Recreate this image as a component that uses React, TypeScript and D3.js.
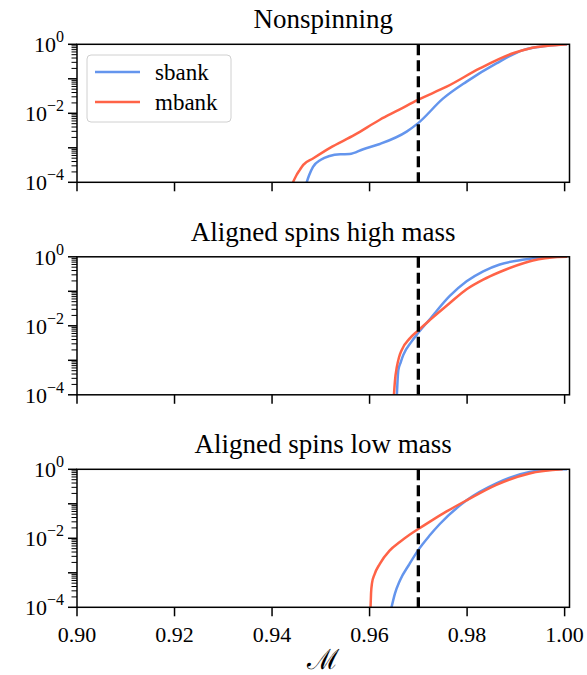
import React from 'react';
import * as d3 from 'd3';

const width = 587;
const height = 675;
const left = 77;
const right = 569.5;
const firstTop = 44.3;
const panelStep = 212.5;
const panelHeight = 138;

const TITLES = ['Nonspinning', 'Aligned spins high mass', 'Aligned spins low mass'];
const X_TICKS = [0.9, 0.92, 0.94, 0.96, 0.98, 1.0];
const Y_MAJOR = [-4, -2, 0];
const THRESHOLD = 0.97;

// Nonspinning
const nsMbankM = [0.9443, 0.945, 0.9457, 0.9464, 0.9484, 0.9518, 0.957, 0.9621, 0.966, 0.9699, 0.9758, 0.9826, 0.9894, 0.9928, 0.9962, 1.0005];
const nsMbankF = [1e-4, 1.6e-4, 2.3e-4, 3.2e-4, 4.9e-4, 9.8e-4, 2.4e-3, 6.5e-3, 1.25e-2, 2.45e-2, 5.9e-2, 0.2, 0.55, 0.76, 0.89, 1.0];
const nsSbankM = [0.9471, 0.9476, 0.9484, 0.95, 0.9518, 0.954, 0.9559, 0.9587, 0.9621, 0.9676, 0.9699, 0.9751, 0.9799, 0.986, 0.9915, 0.9949, 1.0005];
const nsSbankF = [1e-4, 1.6e-4, 2.8e-4, 4.5e-4, 5.8e-4, 6.5e-4, 6.6e-4, 9.1e-4, 1.29e-3, 2.95e-3, 5.1e-3, 2.7e-2, 8.3e-2, 0.28, 0.68, 0.85, 1.0];

// Aligned spins high mass
const hmMbankM = [0.965, 0.9652, 0.9656, 0.966, 0.9666, 0.9683, 0.97, 0.9724, 0.9764, 0.9799, 0.9833, 0.9867, 0.9917, 0.9935, 0.996, 0.9985, 1.0005];
const hmMbankF = [1e-4, 2.5e-4, 6.5e-4, 1.17e-3, 2.0e-3, 4.4e-3, 7.4e-3, 1.48e-2, 4.5e-2, 0.115, 0.219, 0.363, 0.66, 0.78, 0.91, 0.99, 1.0];
const hmSbankM = [0.9656, 0.9657, 0.9659, 0.9664, 0.9669, 0.9686, 0.97, 0.9724, 0.9764, 0.9799, 0.9833, 0.9867, 0.9917, 0.995, 0.998, 1.0005];
const hmSbankF = [1e-4, 2.0e-4, 5.2e-4, 8.9e-4, 1.41e-3, 3.47e-3, 6.3e-3, 1.58e-2, 7.2e-2, 0.195, 0.38, 0.6, 0.83, 0.955, 1.0, 1.0];

// Aligned spins low mass
const lmMbankM = [0.9602, 0.9603, 0.9605, 0.961, 0.9621, 0.9641, 0.9662, 0.9682, 0.9699, 0.9723, 0.9758, 0.9799, 0.986, 0.9928, 0.9996];
const lmMbankF = [1e-4, 2.5e-4, 5.0e-4, 8.9e-4, 1.82e-3, 4.4e-3, 7.8e-3, 1.26e-2, 1.82e-2, 3.0e-2, 6.0e-2, 0.126, 0.355, 0.76, 1.0];
const lmSbankM = [0.9645, 0.9652, 0.9662, 0.9682, 0.9699, 0.9723, 0.9744, 0.9799, 0.986, 0.9928, 0.999, 1.0005];
const lmSbankF = [1e-4, 2.5e-4, 5.9e-4, 1.82e-3, 4.4e-3, 1.2e-2, 2.6e-2, 0.126, 0.39, 0.83, 1.0, 1.0];

const SERIES = [
  { name: 'sbank', color: '#6495ed' },
  { name: 'mbank', color: '#ff6347' },
];

const PANELS = [
  { sbank: [nsSbankM, nsSbankF], mbank: [nsMbankM, nsMbankF] },
  { sbank: [hmSbankM, hmSbankF], mbank: [hmMbankM, hmMbankF] },
  { sbank: [lmSbankM, lmSbankF], mbank: [lmMbankM, lmMbankF] },
];

const font = '"Liberation Serif", "Times New Roman", serif';

const x = d3.scaleLinear().domain([0.9, 1.001]).range([left, right]);

const minorTicks: number[] = [];
for (let e = -4; e < 0; e++) {
  for (let k = 2; k <= 9; k++) minorTicks.push(k * Math.pow(10, e));
}

function Panel({ index }: { index: number }) {
  const top = firstTop + index * panelStep;
  const bottom = top + panelHeight;
  const y = d3.scaleLog().domain([1e-4, 1]).range([bottom, top]);
  const line = d3
    .line<[number, number]>()
    .x(d => x(d[0]))
    .y(d => y(d[1]))
    .curve(d3.curveMonotoneX);
  const panel = PANELS[index];
  const clipId = `clip${index}`;
  const showXLabels = index === 2;

  return (
    <g>
      <defs>
        <clipPath id={clipId}>
          <rect x={left} y={top} width={right - left} height={panelHeight} />
        </clipPath>
      </defs>
      <text x={(left + right) / 2} y={top - 16} textAnchor="middle" fontSize={27} fontFamily={font}>
        {TITLES[index]}
      </text>
      <g clipPath={`url(#${clipId})`}>
        {SERIES.map(s => {
          const [ms, fs] = (panel as any)[s.name];
          const pts: [number, number][] = ms.map((m: number, i: number) => [m, fs[i]]);
          return (
            <path key={s.name} d={line(pts) || ''} fill="none" stroke={s.color} strokeWidth={2.5} />
          );
        })}
        <line
          x1={x(THRESHOLD)} x2={x(THRESHOLD)} y1={top} y2={bottom}
          stroke="#000" strokeWidth={3.3} strokeDasharray="11 5"
        />
      </g>
      <rect x={left} y={top} width={right - left} height={panelHeight} fill="none" stroke="#000" strokeWidth={1.5} />
      {minorTicks.map(v => (
        <line key={v} x1={left - 5.5} x2={left} y1={y(v)} y2={y(v)} stroke="#000" strokeWidth={1} />
      ))}
      {[-4, -3, -2, -1, 0].map(e => (
        <line key={e} x1={left - 9} x2={left} y1={y(Math.pow(10, e))} y2={y(Math.pow(10, e))} stroke="#000" strokeWidth={1.5} />
      ))}
      {Y_MAJOR.map(e => (
        <text key={e} x={left - 13} y={y(Math.pow(10, e)) + 8} textAnchor="end" fontFamily={font} fontSize={22}>
          <tspan>10</tspan>
          <tspan dy={-10} fontSize={16}>{e === 0 ? '0' : `\u2212${-e}`}</tspan>
        </text>
      ))}
      {X_TICKS.map(t => (
        <g key={t}>
          <line x1={x(t)} x2={x(t)} y1={bottom} y2={bottom + 9} stroke="#000" strokeWidth={1.5} />
          {showXLabels && (
            <text x={x(t)} y={bottom + 35} textAnchor="middle" fontFamily={font} fontSize={22}>
              {t.toFixed(2)}
            </text>
          )}
        </g>
      ))}
      {index === 0 && (
        <g>
          <rect x={87} y={55} width={144} height={67} rx={4} fill="#fff" fillOpacity={0.8} stroke="#d0d0d0" strokeWidth={1} />
          {SERIES.map((s, i) => (
            <g key={s.name}>
              <line x1={95} x2={140} y1={72 + i * 30} y2={72 + i * 30} stroke={s.color} strokeWidth={2.5} />
              <text x={155} y={80 + i * 30} fontFamily={font} fontSize={23}>{s.name}</text>
            </g>
          ))}
        </g>
      )}
    </g>
  );
}

export default function App() {
  return (
    <svg
      width={width}
      height={height}
      viewBox={`0 0 ${width} ${height}`}
      style={{ position: 'absolute', left: 0, top: 0, background: '#fff' }}
    >
      {[0, 1, 2].map(i => (
        <Panel key={i} index={i} />
      ))}
      <text x={(left + right) / 2} y={669} textAnchor="middle" fontFamily={font} fontSize={28}>
        ℳ
      </text>
    </svg>
  );
}
